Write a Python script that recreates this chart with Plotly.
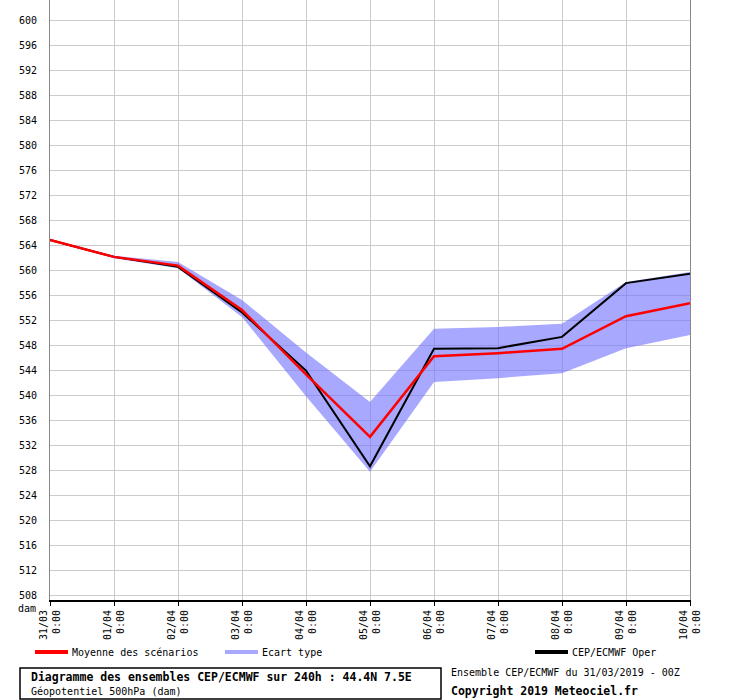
import plotly.graph_objects as go

dates = ["31/03", "01/04", "02/04", "03/04", "04/04", "05/04", "06/04", "07/04", "08/04", "09/04", "10/04"]
hour_label = "0:00"
mean_vals = [564.8, 562.1, 560.7, 553.6, 543.3, 533.3, 546.2, 546.7, 547.4, 552.6, 554.7]
oper_vals = [564.8, 562.1, 560.5, 553.2, 543.9, 528.6, 547.4, 547.5, 549.3, 557.9, 559.4]
upper_vals = [564.9, 562.3, 561.3, 555.2, 546.8, 538.9, 550.6, 550.9, 551.4, 558.1, 559.7]
lower_vals = [564.7, 561.9, 560.3, 552.5, 539.8, 527.7, 542.1, 542.7, 543.5, 547.5, 549.6]
y_ticks = list(range(508, 601, 4))

FONT = "DejaVu Sans Mono"
W, H = 740, 700
L, R, T, B = 50, 50, 0, 100
PW, PH = W - L - R, H - T - B


def px(x):
    return (x - L) / PW


def py(y):
    return (T + PH - y) / PH


fig = go.Figure()
fig.add_trace(go.Scatter(x=dates, y=upper_vals, mode="lines", line=dict(width=0, color="rgba(110,110,255,0)"),
                         showlegend=False, hoverinfo="skip"))
fig.add_trace(go.Scatter(x=dates, y=lower_vals, mode="lines", line=dict(width=0, color="rgba(110,110,255,0)"),
                         fill="tonexty", fillcolor="rgba(110,110,255,0.6)", showlegend=False, name="Ecart type"))
fig.add_trace(go.Scatter(x=dates, y=oper_vals, mode="lines", line=dict(width=2, color="black"),
                         showlegend=False, name="CEP/ECMWF Oper"))
fig.add_trace(go.Scatter(x=dates, y=mean_vals, mode="lines", line=dict(width=2.5, color="#ff0000"),
                         showlegend=False, name="Moyenne des scénarios"))

fig.update_layout(
    width=W, height=H,
    margin=dict(l=L, r=R, t=T, b=B),
    paper_bgcolor="white", plot_bgcolor="white",
    font=dict(family=FONT, size=10, color="black"),
    showlegend=False,
)
fig.update_xaxes(
    type="category", range=[0, len(dates) - 1],
    tickvals=dates, ticktext=[f"{d}<br>{hour_label}" for d in dates],
    tickangle=-90, showgrid=True, gridcolor="#cccccc", gridwidth=1,
    showline=True, linecolor="black", linewidth=2,
    ticks="outside", ticklen=4, tickcolor="black",
    tickfont=dict(family=FONT, size=10), zeroline=False,
)
fig.update_yaxes(
    range=[507.2, 603.2], tickvals=y_ticks, ticktext=[str(v) for v in y_ticks],
    showgrid=True, gridcolor="#cccccc", gridwidth=1,
    showline=True, linecolor="#888888", linewidth=1, mirror=True,
    ticks="", ticklabelstandoff=10, zeroline=False,
    tickfont=dict(family=FONT, size=10),
)

shapes = []
annotations = []
# y unit
annotations.append(dict(text="dam", x=px(38), y=py(608), xref="paper", yref="paper",
                        xanchor="right", yanchor="middle", showarrow=False, font=dict(family=FONT, size=10)))
# legend
legend_items = [("#ff0000", 35, "Moyenne des scénarios"), ("#a8a8ff", 225, "Ecart type"), ("black", 535, "CEP/ECMWF Oper")]
for color, x0, label in legend_items:
    shapes.append(dict(type="line", xref="paper", yref="paper", x0=px(x0), x1=px(x0 + 33), y0=py(652), y1=py(652),
                       line=dict(color=color, width=4)))
    annotations.append(dict(text=label, x=px(x0 + 35), y=py(652), xref="paper", yref="paper",
                            xanchor="left", yanchor="middle", showarrow=False, font=dict(family=FONT, size=10)))
# footer box
shapes.append(dict(type="rect", xref="paper", yref="paper", x0=px(20), x1=px(441), y0=py(699), y1=py(668),
                   line=dict(color="black", width=1.5), fillcolor="rgba(0,0,0,0)"))
annotations.append(dict(text="<b>Diagramme des ensembles CEP/ECMWF sur 240h : 44.4N 7.5E</b>", x=px(29), y=py(677),
                        xref="paper", yref="paper", xanchor="left", yanchor="middle", showarrow=False,
                        font=dict(family=FONT, size=11.5)))
annotations.append(dict(text="Géopotentiel 500hPa (dam)", x=px(29), y=py(691),
                        xref="paper", yref="paper", xanchor="left", yanchor="middle", showarrow=False,
                        font=dict(family=FONT, size=10)))
annotations.append(dict(text="Ensemble CEP/ECMWF du 31/03/2019 - 00Z", x=px(449), y=py(672),
                        xref="paper", yref="paper", xanchor="left", yanchor="middle", showarrow=False,
                        font=dict(family=FONT, size=10)))
annotations.append(dict(text="<b>Copyright 2019 Meteociel.fr</b>", x=px(449), y=py(691),
                        xref="paper", yref="paper", xanchor="left", yanchor="middle", showarrow=False,
                        font=dict(family=FONT, size=11.5)))
fig.update_layout(shapes=shapes, annotations=annotations)

fig.write_html("out.html", config={"displayModeBar": False},
               post_script="document.body.style.margin='0';document.body.style.padding='0';")
